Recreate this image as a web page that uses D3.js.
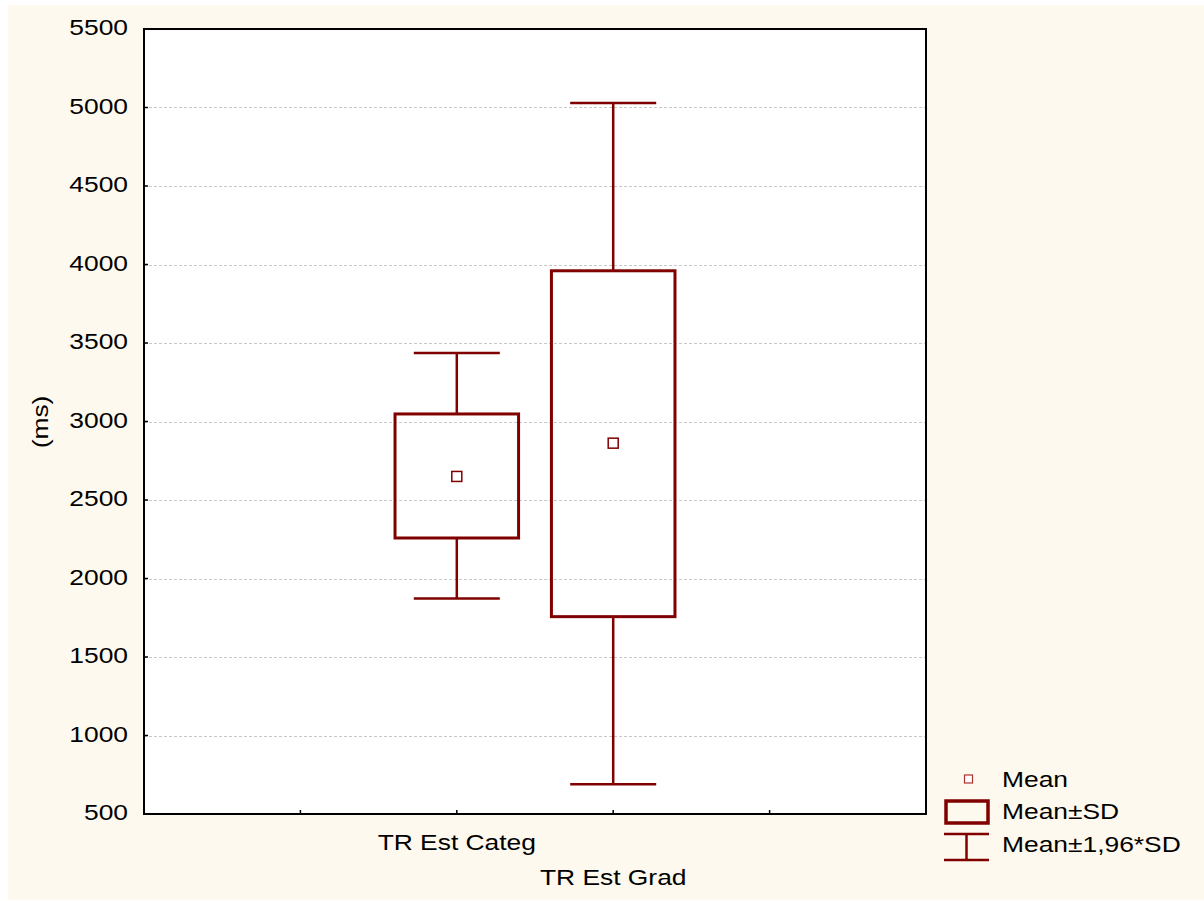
<!DOCTYPE html>
<html><head><meta charset="utf-8">
<script src="https://cdn.jsdelivr.net/npm/d3@7"></script>
<style>
html,body{margin:0;padding:0;background:#fff;}
text{font-family:"Liberation Sans",Arial,sans-serif;font-size:22px;fill:#000;}
</style></head>
<body><svg id="c" width="1204" height="901"></svg>
<script>
const categories = ["TR Est Categ", "TR Est Grad"];
const means = [2650, 2862];
const sdLow = [2258, 1757];
const sdHigh = [3048, 3960];
const ciLow = [1872, 690];
const ciHigh = [3436, 5028];
const yTicks = [500,1000,1500,2000,2500,3000,3500,4000,4500,5000,5500];
const legendLabels = ["Mean", "Mean±SD", "Mean±1,96*SD"];

const W = 1204, H = 901;
const svg = d3.select("#c");
const col = "#800000";
const SX = 1.2;

svg.append("rect").attr("x",8).attr("y",5).attr("width",W-8).attr("height",895).attr("fill","#fef9ee");

const L = 144, R = 926, T = 29, B = 814;
svg.append("rect").attr("x",L).attr("y",T).attr("width",R-L).attr("height",B-T).attr("fill","#fff");

const y = d3.scaleLinear().domain([500,5500]).range([B,T]);
const x = d3.scaleLinear().domain([0,5]).range([L,R]);
const step = x(1)-x(0);

// grid
svg.append("g").selectAll("line").data(yTicks.filter(v=>v>500&&v<5500)).join("line")
  .attr("x1",L).attr("x2",R).attr("y1",d=>Math.round(y(d))+0.5).attr("y2",d=>Math.round(y(d))+0.5)
  .attr("stroke","#c8c8c8").attr("stroke-width",1).attr("stroke-dasharray","3,2");

function stext(g, txt, px, py, anchor, rot){
  const t = g.append("text").text(txt).attr("text-anchor",anchor||"start")
    .attr("transform",`translate(${px},${py})${rot?` rotate(${rot})`:""} scale(${SX},1)`);
  return t;
}

// y axis ticks + labels
const gy = svg.append("g");
yTicks.forEach(v=>{
  const py = y(v);
  gy.append("line").attr("x1",L).attr("x2",L+4).attr("y1",py).attr("y2",py).attr("stroke","#000").attr("stroke-width",1.5);
  stext(gy, String(v), 128, py+6, "end");
});
// x ticks
[1,2,3,4].forEach(i=>{
  svg.append("line").attr("x1",x(i)).attr("x2",x(i)).attr("y1",B).attr("y2",B-4).attr("stroke","#000").attr("stroke-width",1.5);
});
// x labels
stext(svg, categories[0], x(2), 850, "middle");
stext(svg, categories[1], x(3), 885, "middle");
// y label
stext(svg, "(ms)", 48, 422, "middle", -90);

// frame
svg.append("rect").attr("x",L).attr("y",T).attr("width",R-L).attr("height",B-T)
  .attr("fill","none").attr("stroke","#000").attr("stroke-width",2);

// boxes
const boxW = step*0.79, capW = step*0.55;
categories.forEach((c,i)=>{
  const cx = x(i+2);
  const g = svg.append("g");
  g.append("line").attr("x1",cx).attr("x2",cx).attr("y1",y(ciHigh[i])).attr("y2",y(sdHigh[i])).attr("stroke",col).attr("stroke-width",2.5);
  g.append("line").attr("x1",cx).attr("x2",cx).attr("y1",y(sdLow[i])).attr("y2",y(ciLow[i])).attr("stroke",col).attr("stroke-width",2.5);
  [ciHigh[i], ciLow[i]].forEach(v=>{
    g.append("line").attr("x1",cx-capW/2).attr("x2",cx+capW/2).attr("y1",y(v)).attr("y2",y(v)).attr("stroke",col).attr("stroke-width",2.5);
  });
  g.append("rect").attr("x",cx-boxW/2).attr("y",y(sdHigh[i])).attr("width",boxW).attr("height",y(sdLow[i])-y(sdHigh[i]))
    .attr("fill","none").attr("stroke",col).attr("stroke-width",3);
  g.append("rect").attr("x",cx-5).attr("y",y(means[i])-5).attr("width",10).attr("height",10)
    .attr("fill","#fff").attr("stroke",col).attr("stroke-width",1.5);
});

// legend
const lg = svg.append("g");
lg.append("rect").attr("x",964.5).attr("y",775).attr("width",8).attr("height",8).attr("fill","#fff").attr("stroke","#b03030").attr("stroke-width",1.2);
stext(lg, legendLabels[0], 1002, 787, "start");
lg.append("rect").attr("x",946).attr("y",801).attr("width",42).attr("height",22).attr("fill","none").attr("stroke",col).attr("stroke-width",3.5);
stext(lg, legendLabels[1], 1002, 819, "start");
lg.append("line").attr("x1",944).attr("x2",989).attr("y1",834).attr("y2",834).attr("stroke",col).attr("stroke-width",2.5);
lg.append("line").attr("x1",944).attr("x2",989).attr("y1",860).attr("y2",860).attr("stroke",col).attr("stroke-width",2.5);
lg.append("line").attr("x1",966.5).attr("x2",966.5).attr("y1",834).attr("y2",860).attr("stroke",col).attr("stroke-width",2.5);
stext(lg, legendLabels[2], 1002, 852, "start");
</script></body></html>
